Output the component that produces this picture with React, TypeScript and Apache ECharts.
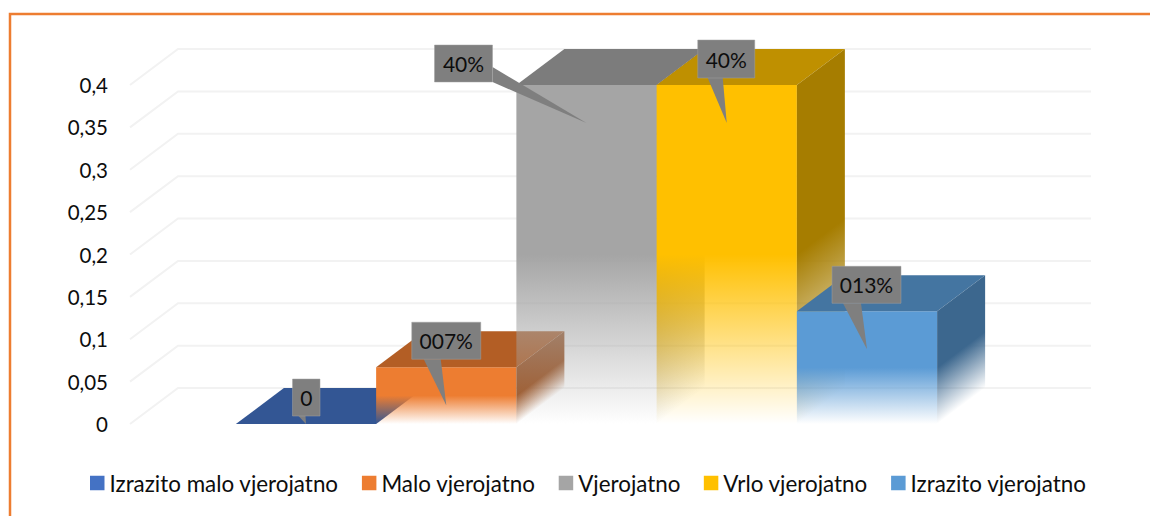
import React, { useEffect, useRef } from "react";
import * as echarts from "echarts";

const names = ["Izrazito malo vjerojatno", "Malo vjerojatno", "Vjerojatno", "Vrlo vjerojatno", "Izrazito vjerojatno"];
const values = [0, 0.067, 0.4, 0.4, 0.133];
const labels = ["0", "007%", "40%", "40%", "013%"];
const yTicks = [0, 0.05, 0.1, 0.15, 0.2, 0.25, 0.3, 0.35, 0.4];
const frontColors = ["#4472C4", "#ED7D31", "#A5A5A5", "#FFC000", "#5B9BD5"];
const topColors = ["#335694", "#B35E25", "#7C7C7C", "#BF9000", "#4475A1"];
const sideColors = ["#2D4C82", "#9E5321", "#6D6D6D", "#A67D00", "#3C678E"];

const FONT = "Lato, Carlito, sans-serif";
const DX = 48;
const DY = -36;
const GAP = 1.51;

// callout box relative to the tail tip: [left, top, width, height, tailBaseStart, tailBaseEnd]
const calloutBoxes = [
  [-13.5, -45, 27.5, 37, 6, 13],
  [-34.5, -83, 69, 37, 12, 29],
  [-152, -78, 58, 37, 22, 37],
  [-29, -83, 57, 38, 10, 25],
  [-35, -83, 69, 37, 11, 29],
];

function rgba(hex: string, a: number) {
  const n = parseInt(hex.slice(1), 16);
  return `rgba(${(n >> 16) & 255},${(n >> 8) & 255},${n & 255},${a})`;
}
function fadeStops(hex: string) {
  return [
    { offset: 0, color: rgba(hex, 1) },
    { offset: 0.5, color: rgba(hex, 1) },
    { offset: 1, color: rgba(hex, 0) },
  ];
}

function barItem(i: number) {
  return (params: any, api: any) => {
    const center = api.coord([0, api.value(1)]);
    const base = api.coord([0, 0]);
    const bw = api.size([1, 0])[0] / (names.length + GAP);
    const x0 = center[0] + (i - (names.length - 1) / 2 - 0.5) * bw;
    const x1 = x0 + bw;
    const yT = center[1];
    const yB = base[1];
    const h = yB - yT;
    const children: any[] = [];
    if (h > 0.5) {
      children.push({
        type: "rect",
        shape: { x: x0, y: yT, width: bw, height: h },
        style: {
          fill: { type: "linear", x: 0, y: 0, x2: 0, y2: 1, colorStops: fadeStops(frontColors[i]) },
        },
      });
    }
    children.push({
      type: "polygon",
      shape: { points: [[x0, yT], [x1, yT], [x1 + DX, yT + DY], [x0 + DX, yT + DY]] },
      style: { fill: topColors[i] },
    });
    if (h > 0.5) {
      children.push({
        type: "polygon",
        shape: { points: [[x1, yT], [x1 + DX, yT + DY], [x1 + DX, yB + DY], [x1, yB]] },
        style: {
          fill: {
            type: "linear",
            global: true,
            x: x1,
            y: yT,
            x2: x1 + 0.48 * h,
            y2: yT + 0.64 * h,
            colorStops: fadeStops(sideColors[i]),
          },
        },
      });
    }
    return { type: "group", children };
  };
}

function wallItem(params: any, api: any) {
  const p = api.coord([0, api.value(1)]);
  const size = api.size([1, 0])[0];
  const xL = p[0] - size / 2;
  const xR = p[0] + size / 2;
  return {
    type: "polyline",
    shape: { points: [[xL, p[1]], [xL + DX, p[1] + DY], [xR + DX, p[1] + DY]] },
    style: { stroke: "#F2F2F2", lineWidth: 2, fill: "none" },
  };
}

function calloutItem(params: any, api: any) {
  const i = params.dataIndex;
  const top = api.coord([0, api.value(1)]);
  const base = api.coord([0, 0]);
  const bw = api.size([1, 0])[0] / (names.length + GAP);
  const cx = top[0] + (i - (names.length - 1) / 2) * bw;
  const tipY = Math.min(top[1] + 38, base[1]);
  const [l, t, w, hh, b0, b1] = calloutBoxes[i];
  const left = cx + l;
  const boxTop = tipY + t;
  const sideTail = i === 2;
  const tail = sideTail
    ? [[left + w, boxTop + b0], [cx, tipY], [left + w, boxTop + b1]]
    : [[left + b0, boxTop + hh], [cx, tipY], [left + b1, boxTop + hh]];
  return {
    type: "group",
    children: [
      { type: "polygon", shape: { points: tail }, style: { fill: "#7F7F7F" } },
      {
        type: "rect",
        shape: { x: left, y: boxTop, width: w, height: hh },
        style: { fill: "#7F7F7F", stroke: "#A0A0A0", lineWidth: 0.5 },
      },
      {
        type: "text",
        style: {
          x: left + w / 2,
          y: boxTop + hh / 2,
          text: labels[i],
          fill: "#0D0D0D",
          fontSize: 21,
          fontFamily: FONT,
          align: "center",
          verticalAlign: "middle",
        },
      },
    ],
  };
}

export default function App() {
  const ref = useRef<HTMLDivElement>(null);
  useEffect(() => {
    const chart = echarts.init(ref.current!, undefined, { renderer: "svg" });
    chart.setOption({
      animation: false,
      backgroundColor: "#FFFFFF",
      color: frontColors,
      grid: { left: 130, right: 107, top: 85, bottom: 92 },
      xAxis: {
        type: "category",
        data: [""],
        axisLine: { show: false },
        axisTick: { show: false },
        axisLabel: { show: false },
      },
      yAxis: {
        type: "value",
        min: 0,
        max: 0.4,
        interval: 0.05,
        splitLine: { show: false },
        axisLine: { show: false },
        axisTick: { show: false },
        axisLabel: {
          margin: 22,
          fontSize: 20.5,
          fontFamily: FONT,
          color: "#0D0D0D",
          formatter: (v: number) => String(v).replace(".", ","),
        },
      },
      legend: {
        data: names,
        left: 85,
        top: 467,
        icon: "rect",
        itemWidth: 14.5,
        itemHeight: 14.5,
        itemGap: 23.3,
        selectedMode: false,
        textStyle: { fontSize: 22.4, fontFamily: FONT, color: "#0D0D0D" },
      },
      graphic: [
        {
          type: "polyline",
          shape: { points: [[10, 516], [10, 14], [1150, 14]] },
          style: { stroke: "#ED7D31", lineWidth: 2.5, fill: "none" },
          silent: true,
        },
      ],
      series: [
        {
          type: "custom",
          name: "grid",
          renderItem: wallItem,
          data: yTicks.map((v) => [0, v]),
          encode: { x: 0, y: 1 },
          silent: true,
        },
        ...names.map((name, i) => ({
          type: "custom",
          name,
          renderItem: barItem(i),
          itemStyle: { color: frontColors[i] },
          data: [[0, values[i]]],
          encode: { x: 0, y: 1 },
          silent: true,
        })),
        {
          type: "custom",
          name: "labels",
          renderItem: calloutItem,
          data: values.map((v) => [0, v]),
          encode: { x: 0, y: 1 },
          silent: true,
        },
      ],
    });
    return () => chart.dispose();
  }, []);
  return <div ref={ref} style={{ position: "absolute", left: 0, top: 0, width: 1150, height: 516 }} />;
}
